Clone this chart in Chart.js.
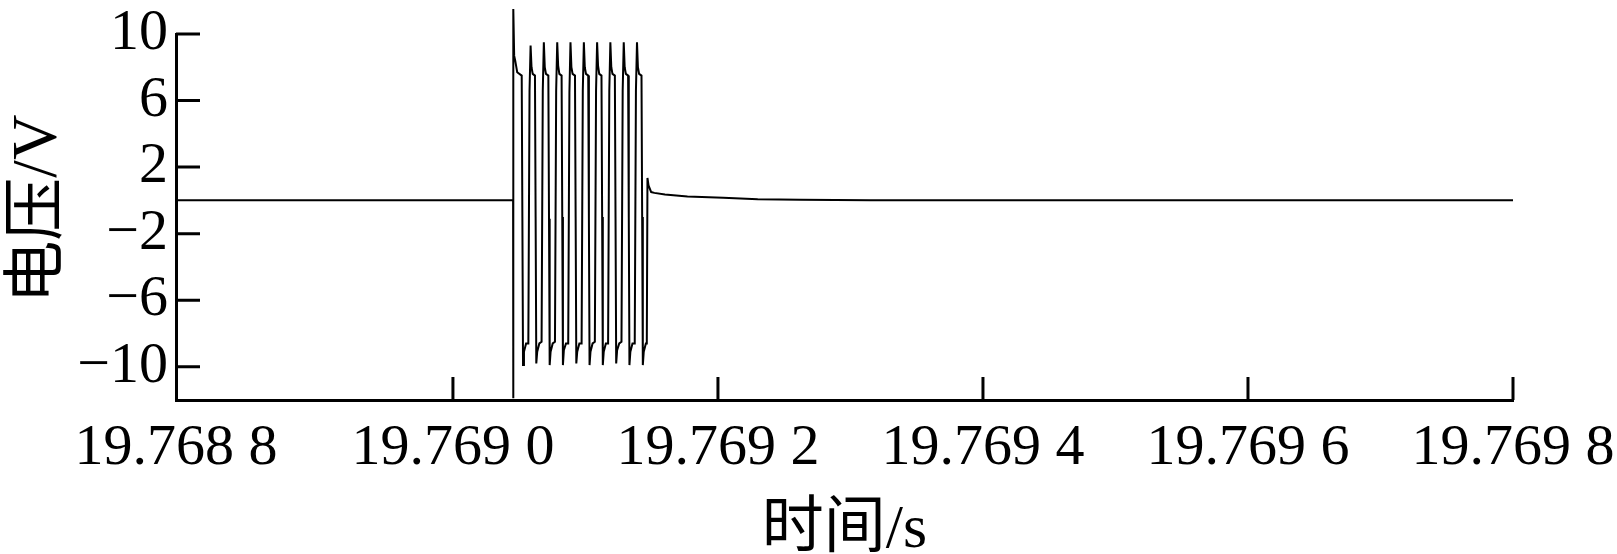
<!DOCTYPE html>
<html>
<head>
<meta charset="utf-8">
<script src="https://cdn.jsdelivr.net/npm/chart.js@4.4.1/dist/chart.umd.min.js"></script>
<style>
  html, body { margin: 0; padding: 0; background: #fff; }
  canvas { display: block; }
</style>
</head>
<body>
<canvas id="chart" width="1617" height="554"></canvas>
<script>
// time is in microseconds after 19.769 0 s
const timeUs = [
  -209, 45.4, 45.5, 45.6, 46.2, 47.0, 48.5,
  51.9, 52.4, 52.9, 53.6, 55.2, 56.9, 57.8, 58.6, 59.3, 60.2,
  61.9, 62.4, 62.9, 63.6, 65.2, 66.9, 67.8, 68.6, 69.3, 70.2,
  72.0, 72.5, 73.0, 73.7, 75.3, 77.0, 77.9, 78.7, 79.4, 80.3,
  82.0, 82.5, 83.0, 83.7, 85.3, 87.0, 87.9, 88.7, 89.4, 90.3,
  92.1, 92.6, 93.1, 93.8, 95.4, 97.1, 98.0, 98.8, 99.5, 100.4,
  102.1, 102.6, 103.1, 103.8, 105.4, 107.1, 108.0, 108.8, 109.5, 110.4,
  112.1, 112.6, 113.1, 113.8, 115.4, 117.1, 118.0, 118.8, 119.5, 120.4,
  122.2, 122.7, 123.2, 123.9, 125.5, 127.2, 128.1, 128.9, 129.6, 130.5,
  132.2, 132.7, 133.2, 133.9, 135.5, 137.2, 138.1, 138.9, 139.6, 140.5,
  142.3, 142.8, 143.3, 144.0, 145.6, 146.3, 146.8, 147.6, 149.6, 152,
  160, 177, 204, 230, 262, 315, 800
];
const voltage = [
  0, 0, -11.9, 11.5, 8.7, 8.4, 7.7,
  7.5, -1.0, -9.9, -9.1, -8.6, -8.6, 6.6, 9.3, 8.0, 7.6,
  7.5, -1.0, -9.8, -9.1, -8.6, -8.5, 6.6, 9.5, 8.0, 7.6,
  7.5, -1.1, -9.9, -9.1, -8.6, -8.5, 6.6, 9.5, 8.1, 7.6,
  7.5, -1.0, -9.9, -9.0, -8.6, -8.6, 6.5, 9.5, 8.0, 7.6,
  7.5, -1.0, -9.8, -9.1, -8.6, -8.6, 6.6, 9.5, 8.0, 7.6,
  7.5, -1.1, -9.9, -9.1, -8.6, -8.5, 6.6, 9.5, 8.1, 7.6,
  7.5, -1.0, -9.9, -9.1, -8.6, -8.6, 6.6, 9.5, 8.0, 7.6,
  7.5, -1.0, -9.8, -9.0, -8.6, -8.5, 6.6, 9.5, 8.0, 7.6,
  7.5, -1.0, -9.9, -9.1, -8.6, -8.6, 6.6, 9.5, 8.0, 7.6,
  7.5, -1.0, -9.9, -9.1, -8.6, -8.6, 1.35, 0.9, 0.5, 0.45,
  0.35, 0.23, 0.15, 0.07, 0.03, 0, 0
];

const xTickValues = [-209, 0, 200, 400, 600, 800];
const xTickLabels = ["19.768 8", "19.769 0", "19.769 2", "19.769 4", "19.769 6", "19.769 8"];
const xMarkValues = [0, 200, 400, 600, 800];
const yTickValues = [10, 6, 2, -2, -6, -10];

const serif = "'Liberation Serif', 'Times New Roman', 'Noto Sans CJK SC', serif";

const points = timeUs.map((t, i) => ({ x: t, y: voltage[i] }));

// short tick marks pointing into the plot
const innerTicks = {
  id: 'innerTicks',
  afterDraw(chart) {
    const { ctx, chartArea, scales } = chart;
    ctx.save();
    ctx.strokeStyle = '#000';
    ctx.lineWidth = 3;
    ctx.beginPath();
    for (const v of yTickValues) {
      const y = scales.y.getPixelForValue(v);
      ctx.moveTo(chartArea.left, y);
      ctx.lineTo(chartArea.left + 24, y);
    }
    for (const v of xMarkValues) {
      const x = scales.x.getPixelForValue(v);
      ctx.moveTo(x, chartArea.bottom);
      ctx.lineTo(x, chartArea.bottom - 23);
    }
    ctx.stroke();
    ctx.restore();
  }
};

new Chart(document.getElementById('chart'), {
  type: 'line',
  data: {
    datasets: [{
      data: points,
      borderColor: '#000',
      borderWidth: 2,
      pointRadius: 0,
      tension: 0,
      clip: false
    }]
  },
  options: {
    responsive: false,
    animation: false,
    parsing: false,
    layout: { padding: { top: 34, right: 104, bottom: 0, left: 0 } },
    plugins: { legend: { display: false }, tooltip: { enabled: false } },
    scales: {
      x: {
        type: 'linear',
        min: -209,
        max: 800,
        grid: { display: false, drawTicks: false, tickLength: 0 },
        border: { display: true, color: '#000', width: 3 },
        afterBuildTicks: s => { s.ticks = xTickValues.map(v => ({ value: v })); },
        afterFit: s => { s.height = 154; s.paddingLeft = 0; s.paddingRight = 0; },
        ticks: {
          color: '#000',
          padding: 20,
          maxRotation: 0,
          autoSkip: false,
          font: { family: serif, size: 58, lineHeight: 1 },
          callback: (v, i) => xTickLabels[i]
        },
        title: {
          display: true,
          text: '时间/s',
          color: '#000',
          font: { family: serif, size: 62, lineHeight: 1 },
          padding: { top: 0, bottom: -8 }
        }
      },
      y: {
        type: 'linear',
        min: -12,
        max: 10,
        grid: { display: false, drawTicks: false, tickLength: 0 },
        border: { display: true, color: '#000', width: 3 },
        afterBuildTicks: s => { s.ticks = yTickValues.map(v => ({ value: v })); },
        afterFit: s => { s.width = 176; s.paddingTop = 0; s.paddingBottom = 0; },
        ticks: {
          color: '#000',
          padding: 8,
          autoSkip: false,
          font: { family: serif, size: 58, lineHeight: 1 },
          callback: v => (v < 0 ? '\u2212' + Math.abs(v) : String(v))
        },
        title: {
          display: true,
          text: ' 电压/V',
          color: '#000',
          font: { family: serif, size: 63, lineHeight: 1.1 },
          padding: { top: 5, bottom: 0 }
        }
      }
    }
  },
  plugins: [innerTicks]
});
</script>
</body>
</html>
